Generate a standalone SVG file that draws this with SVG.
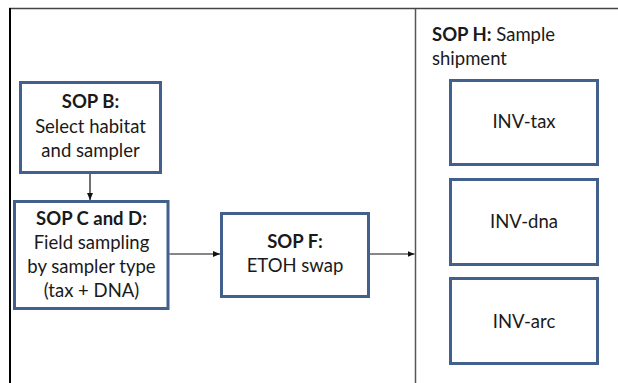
<svg xmlns="http://www.w3.org/2000/svg" width="618" height="383" viewBox="0 0 618 383">
  <defs>
    <marker id="arrow" markerWidth="7" markerHeight="6" refX="7" refY="3" orient="auto" markerUnits="userSpaceOnUse">
      <path d="M0,0 L7,3 L0,6 Z" fill="#111"/>
    </marker>
    <style>
      .box { fill: #fff; stroke: #41618c; stroke-width: 3; }
      .t { font-family: Lato, "Liberation Sans", sans-serif; font-size: 18.5px; fill: #1a1a1a; text-anchor: middle; }
      .b { font-weight: bold; }
      .conn { stroke: #111; stroke-width: 1.2; fill: none; }
    </style>
  </defs>
  <rect width="618" height="383" fill="#fff"/>

  <!-- outer frame and shipment panel divider -->
  <g id="frame">
    <line x1="9" y1="8.5" x2="618" y2="8.5" stroke="#444" stroke-width="1.5"/>
    <line x1="10" y1="8" x2="10" y2="383" stroke="#000" stroke-width="2"/>
    <line x1="415.5" y1="9" x2="415.5" y2="383" stroke="#555" stroke-width="1.5"/>
  </g>

  <g id="sopB">
    <rect class="box" x="20.5" y="82.5" width="140" height="90"/>
    <text class="t b" x="90.5" y="108">SOP B:</text>
    <text class="t" x="90.5" y="133">Select habitat</text>
    <text class="t" x="90.5" y="157">and sampler</text>
  </g>

  <g id="sopCD">
    <rect class="box" x="14.5" y="201.5" width="153.5" height="107"/>
    <text class="t b" x="91.5" y="225">SOP C and D:</text>
    <text class="t" x="91.5" y="249">Field sampling</text>
    <text class="t" x="91.5" y="273">by sampler type</text>
    <text class="t" x="91.5" y="297">(tax + DNA)</text>
  </g>

  <g id="sopF">
    <rect class="box" x="221.5" y="213.5" width="147" height="83"/>
    <text class="t b" x="295" y="248">SOP F:</text>
    <text class="t" x="295" y="272">ETOH swap</text>
  </g>

  <g id="sopH">
    <text class="t" x="432" y="41" style="text-anchor:start"><tspan class="b">SOP H:</tspan> Sample</text>
    <text class="t" x="432" y="65" style="text-anchor:start">shipment</text>
  </g>

  <g id="invTax">
    <rect class="box" x="450.5" y="80.5" width="147" height="84"/>
    <text class="t" x="524" y="128">INV-tax</text>
  </g>
  <g id="invDna">
    <rect class="box" x="450.5" y="179.5" width="147" height="85"/>
    <text class="t" x="524" y="228">INV-dna</text>
  </g>
  <g id="invArc">
    <rect class="box" x="450.5" y="278.5" width="147" height="85"/>
    <text class="t" x="524" y="328">INV-arc</text>
  </g>

  <g id="connectors">
    <line class="conn" x1="90" y1="174" x2="90" y2="200" marker-end="url(#arrow)"/>
    <line class="conn" x1="169.5" y1="254" x2="220" y2="254" marker-end="url(#arrow)"/>
    <line class="conn" x1="370" y1="254" x2="414.5" y2="254" marker-end="url(#arrow)"/>
  </g>
</svg>
